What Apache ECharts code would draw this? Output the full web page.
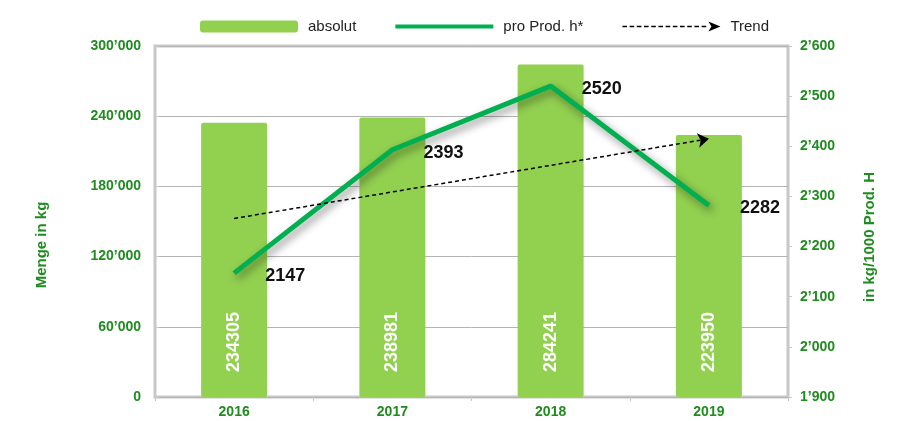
<!DOCTYPE html>
<html>
<head>
<meta charset="utf-8">
<script src="https://cdn.jsdelivr.net/npm/echarts@6/dist/echarts.min.js"></script>
<style>
  html, body { margin: 0; padding: 0; background: #fff; }
  #main { width: 900px; height: 421px; }
</style>
</head>
<body>
<div id="main"></div>
<script>
// Daten
var years = ['2016', '2017', '2018', '2019'];
var absolut = [234305, 238981, 284241, 223950];
var proProd = [2147, 2393, 2520, 2282];
// Trendlinie (Anfang 2016, Ende 2019)
var trendStart = 2256;
var trendEnd = 2415;

var green = '#1f8c1f';
var font = 'Arial, "Liberation Sans", sans-serif';

function fmt(v) {
    return String(v).replace(/\B(?=(\d{3})+(?!\d))/g, '\u2019');
}

// Legenden-Symbole (98 x 12)
var corners = 'M0 0h0.01v0.01h-0.01z M98 12h-0.01v-0.01h0.01z ';
var lineIcon = 'path://' + corners + 'M0 4h98v4h-98z';
var trendIcon = 'path://' + corners;
for (var x = 0; x < 84; x += 7.2) {
    trendIcon += 'M' + x + ' 5.3h4.6v1.4h-4.6z ';
}
trendIcon += 'M86 1L98 6L86 11L89 6z';

var myChart = echarts.init(document.getElementById('main'));

var option = {
    animation: false,
    textStyle: { fontFamily: font },
    legend: {
        top: 14,
        left: 195,
        itemWidth: 98,
        itemHeight: 12,
        itemGap: 39,
        textStyle: { fontSize: 15, color: '#222', fontFamily: font, padding: [0, 0, 0, 5] },
        data: [
            { name: 'absolut', icon: 'roundRect' },
            { name: 'pro Prod. h*', icon: lineIcon, itemStyle: { color: '#00b050' } },
            { name: 'Trend', icon: trendIcon, itemStyle: { color: '#000' } }
        ]
    },
    grid: {
        left: 155,
        right: 112,
        top: 46,
        bottom: 24,
        show: true,
        borderColor: '#c8c8c8',
        borderWidth: 3
    },
    graphic: [
        {
            type: 'text',
            x: 42, y: 245,
            rotation: Math.PI / 2,
            style: {
                text: 'Menge in kg',
                fill: green,
                font: 'bold 15px ' + font,
                align: 'center',
                verticalAlign: 'middle'
            }
        },
        {
            type: 'text',
            x: 870, y: 237,
            rotation: Math.PI / 2,
            style: {
                text: 'in kg/1000 Prod. H',
                fill: green,
                font: 'bold 15px ' + font,
                align: 'center',
                verticalAlign: 'middle'
            }
        }
    ],
    xAxis: {
        type: 'category',
        data: years,
        axisLine: { show: false },
        axisTick: { show: true, length: 4, lineStyle: { color: '#c8c8c8' } },
        axisLabel: { color: green, fontWeight: 'bold', fontSize: 14, margin: 8 }
    },
    yAxis: [
        {
            type: 'value',
            min: 0,
            max: 300000,
            interval: 60000,
            axisLine: { show: false },
            axisTick: { show: true, inside: true, length: 4, lineStyle: { color: '#c8c8c8' } },
            splitLine: { lineStyle: { color: '#b4b4b4', width: 1 } },
            axisLabel: {
                color: green, fontWeight: 'bold', fontSize: 14, margin: 14,
                formatter: fmt
            }
        },
        {
            type: 'value',
            min: 1900,
            max: 2600,
            interval: 100,
            axisLine: { show: false },
            axisTick: { show: true, length: 4, lineStyle: { color: '#c8c8c8' } },
            splitLine: { show: false },
            axisLabel: {
                color: green, fontWeight: 'bold', fontSize: 14, margin: 12,
                formatter: fmt
            }
        }
    ],
    series: [
        {
            name: 'absolut',
            type: 'bar',
            barWidth: 66,
            data: absolut,
            itemStyle: { color: '#92d050', borderRadius: 2 },
            label: {
                show: true,
                position: 'insideBottom',
                rotate: 90,
                align: 'left',
                verticalAlign: 'middle',
                distance: 25,
                color: '#fff',
                fontWeight: 'bold',
                fontSize: 18,
                fontFamily: font
            },
            z: 2
        },
        {
            name: 'pro Prod. h*',
            type: 'line',
            yAxisIndex: 1,
            data: proProd,
            symbol: 'circle',
            symbolSize: 0,
            lineStyle: {
                color: '#00b050',
                width: 5,
                shadowColor: 'rgba(0,0,0,0.45)',
                shadowBlur: 8,
                shadowOffsetX: 3,
                shadowOffsetY: 4
            },
            itemStyle: { color: '#00b050' },
            label: {
                show: true,
                position: 'right',
                distance: 31,
                offset: [0, 3],
                color: '#111',
                fontWeight: 'bold',
                fontSize: 18,
                fontFamily: font
            },
            z: 4
        },
        {
            name: 'Trend',
            type: 'line',
            yAxisIndex: 1,
            data: [],
            itemStyle: { color: '#000' },
            markLine: {
                silent: true,
                symbol: ['none', 'arrow'],
                symbolSize: 11,
                label: { show: false },
                lineStyle: { color: '#000', type: [4, 3], width: 1.5 },
                data: [[
                    { coord: [years[0], trendStart] },
                    { coord: [years[years.length - 1], trendEnd] }
                ]]
            },
            z: 5
        }
    ]
};

myChart.setOption(option);

window.onresize = function () {
    myChart.resize();
};
</script>
</body>
</html>
